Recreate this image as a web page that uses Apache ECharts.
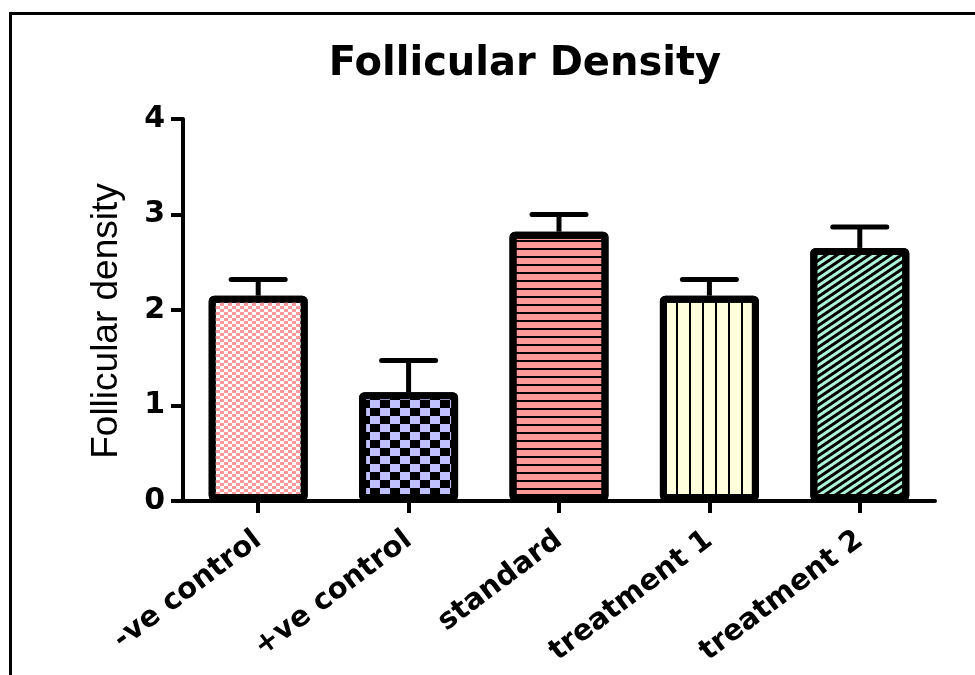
<!DOCTYPE html>
<html>
<head>
<meta charset="utf-8">
<script src="https://cdn.jsdelivr.net/npm/echarts@6/dist/echarts.min.js"></script>
<style>
  html, body { margin: 0; padding: 0; background: #fff; }
  #chart { width: 975px; height: 675px; }
</style>
</head>
<body>
<div id="chart"></div>
<script>
// ---- data ----
var categories = ['-ve control', '+ve control', 'standard', 'treatment 1', 'treatment 2'];
var means = [2.15, 1.14, 2.82, 2.15, 2.65];
var errors = [0.17, 0.33, 0.18, 0.17, 0.22];
var yTicks = [0, 1, 2, 3, 4];

// ---- styles ----
var fillColors = ['#FF9999', '#000000', '#FF9999', '#FFFFDD', '#AEF5DA'];
var decals = [
  { symbol: 'rect', symbolSize: 1, color: '#FFFFFF', dashArrayX: [[4, 4], [0, 4, 4, 0]], dashArrayY: [3, 0] },
  { symbol: 'rect', symbolSize: 1, color: '#C0C0FF', dashArrayX: [[10, 10], [0, 10, 10, 0]], dashArrayY: [7.5, 0] },
  { symbol: 'rect', symbolSize: 1, color: '#000000', dashArrayX: [[1, 0]], dashArrayY: [2, 6] },
  { symbol: 'rect', symbolSize: 1, color: '#000000', dashArrayX: [[2, 10.5]], dashArrayY: [1, 0] },
  { symbol: 'rect', symbolSize: 1, color: '#000000', dashArrayX: [[1, 0]], dashArrayY: [2.2, 2.8], rotation: -Math.PI * 34 / 180 }
];

var bold = 'DejaVu Sans';
var chart = echarts.init(document.getElementById('chart'), null, { renderer: 'canvas' });

var barData = means.map(function (v, i) {
  return { value: v, itemStyle: { color: fillColors[i], decal: decals[i] } };
});
var errData = means.map(function (v, i) { return [i, v, errors[i]]; });

chart.setOption({
  animation: false,
  backgroundColor: '#ffffff',
  title: {
    text: 'Follicular Density',
    left: 520,
    top: 40,
    textAlign: 'center',
    textStyle: { fontFamily: bold, fontWeight: 'bold', fontSize: 40, color: '#000' }
  },
  graphic: [{
    type: 'rect',
    shape: { x: 10.5, y: 13.5, width: 1000, height: 700 },
    style: { fill: null, stroke: '#000', lineWidth: 3 },
    silent: true
  }],
  grid: { left: 183, right: 40, top: 119, bottom: 174, containLabel: false, outerBoundsMode: 'none' },
  xAxis: {
    type: 'category',
    data: categories,
    axisLine: { show: true, lineStyle: { color: '#000', width: 4 } },
    axisTick: { show: true, alignWithLabel: true, length: 12, lineStyle: { color: '#000', width: 4 } },
    axisLabel: {
      interval: 0, rotate: 37, margin: 36, color: '#000',
      fontFamily: bold, fontWeight: 'bold', fontSize: 29
    }
  },
  yAxis: {
    type: 'value',
    min: yTicks[0],
    max: yTicks[yTicks.length - 1],
    interval: 1,
    name: 'Follicular density',
    nameLocation: 'middle',
    nameRotate: 90,
    nameGap: 58,
    nameTextStyle: { fontFamily: "'Liberation Sans', Arial", fontSize: 37, color: '#000', padding: [0, 22, 0, 0] },
    splitLine: { show: false },
    axisLine: { show: true, lineStyle: { color: '#000', width: 4 } },
    axisTick: { show: true, length: 12, lineStyle: { color: '#000', width: 4 } },
    axisLabel: { margin: 18, color: '#000', fontFamily: bold, fontWeight: 'bold', fontSize: 30 }
  },
  series: [
    {
      type: 'bar',
      data: barData,
      barWidth: 99,
      itemStyle: { borderColor: '#000', borderWidth: 7, borderRadius: 2 },
      z: 2
    },
    {
      type: 'custom',
      data: errData,
      z: 3,
      renderItem: function (params, api) {
        var i = api.value(0), v = api.value(1), e = api.value(2);
        var base = api.coord([i, v]);
        var top = api.coord([i, v + e]);
        var half = 27;
        return {
          type: 'group',
          children: [
            { type: 'line', shape: { x1: base[0], y1: base[1], x2: top[0], y2: top[1] },
              style: { stroke: '#000', lineWidth: 5 } },
            { type: 'line', shape: { x1: top[0] - half, y1: top[1], x2: top[0] + half, y2: top[1] },
              style: { stroke: '#000', lineWidth: 5, lineCap: 'round' } }
          ]
        };
      }
    }
  ]
});
</script>
</body>
</html>
